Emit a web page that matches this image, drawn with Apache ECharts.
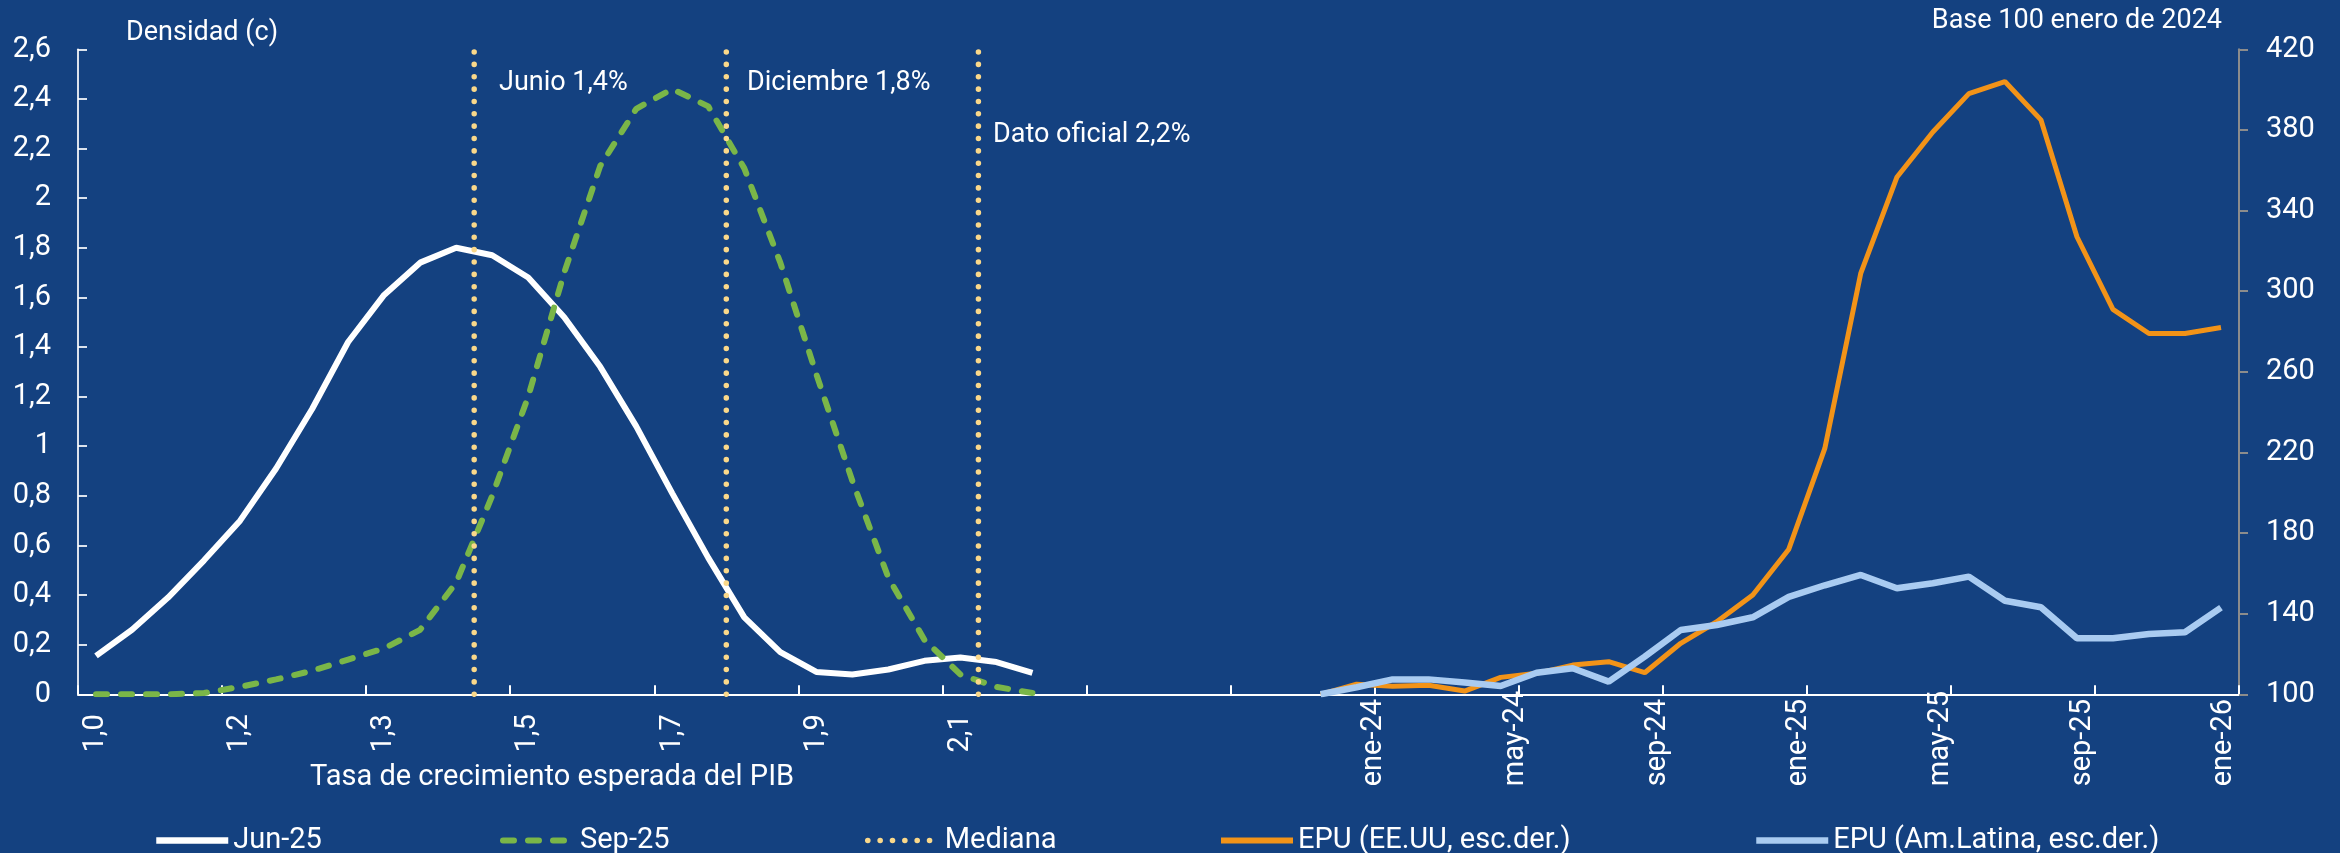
<!DOCTYPE html>
<html>
<head>
<meta charset="utf-8">
<script src="https://cdn.jsdelivr.net/npm/echarts@6/dist/echarts.min.js"></script>
<style>
html,body{margin:0;padding:0;background:#144180;}
#c{width:2340px;height:853px;}
</style>
</head>
<body>
<div id="c"></div>
<script>
// ---------- DATA ----------
// Left panel: density of expected GDP growth (27 grid points)
const gdpTickLabels = ['1,0', '1,2', '1,3', '1,5', '1,7', '1,9', '2,1']; // every 4th grid point
const densityJun25 = [0.155, 0.26, 0.39, 0.54, 0.70, 0.91, 1.15, 1.42, 1.61, 1.74, 1.80, 1.77, 1.68, 1.52,
                      1.32, 1.08, 0.81, 0.55, 0.31, 0.17, 0.09, 0.08, 0.10, 0.135, 0.148, 0.13, 0.086];
const densitySep25 = [0, 0, 0, 0.005, 0.03, 0.06, 0.095, 0.14, 0.185, 0.26, 0.45, 0.80, 1.20, 1.70,
                      2.13, 2.36, 2.44, 2.37, 2.12, 1.74, 1.29, 0.86, 0.47, 0.22, 0.08, 0.03, 0.005];
// Median lines (category-boundary position on the density grid) and their labels
const medianBoundaries = [11, 18, 25];
const medianLabels = ['Junio 1,4%', 'Diciembre 1,8%', 'Dato oficial 2,2%'];

// Right panel: EPU indices, base 100
const months = ['dic-23', 'ene-24', 'feb-24', 'mar-24', 'abr-24', 'may-24', 'jun-24', 'jul-24', 'ago-24',
                'sep-24', 'oct-24', 'nov-24', 'dic-24', 'ene-25', 'feb-25', 'mar-25', 'abr-25', 'may-25',
                'jun-25', 'jul-25', 'ago-25', 'sep-25', 'oct-25', 'nov-25', 'dic-25', 'ene-26'];
const monthTickLabels = ['ene-24', 'may-24', 'sep-24', 'ene-25', 'may-25', 'sep-25', 'ene-26'];
const epuUS = [100, 105, 104, 104.5, 101.6, 108.4, 110.4, 114.5, 116.2, 110.7, 125.3, 136, 149.3, 172,
               222, 309, 356.5, 379, 398, 404, 385, 327, 291, 279, 279, 282];
const epuLatam = [100, 103.5, 107.4, 107.4, 105.8, 104.1, 110.7, 112.9, 106.3, 118.7, 131.9, 134.4, 138.2,
                  148.3, 154.1, 159.2, 152.6, 155.1, 158.4, 146.4, 143.2, 127.8, 127.8, 129.9, 130.8, 143];
const leftTicks = [0, 0.2, 0.4, 0.6, 0.8, 1, 1.2, 1.4, 1.6, 1.8, 2, 2.2, 2.4, 2.6];
const rightTicks = [100, 140, 180, 220, 260, 300, 340, 380, 420];

// ---------- BUILD ----------
const GAP = 7;
const leftSlots = densityJun25.map((_, i) => 'g' + i);
const gapSlots = Array.from({length: GAP}, (_, i) => 'gap' + i);
const categories = leftSlots.concat(gapSlots, months);
const N = categories.length;
const rightStart = leftSlots.length + GAP;
function pad(arr, start) {
  const out = new Array(N).fill(null);
  arr.forEach((v, i) => { out[start + i] = v; });
  return out;
}
const leftLabelAt = {};
gdpTickLabels.forEach((t, j) => { leftLabelAt[j * 4] = t; });
const baseMonth = months.indexOf('ene-24');
const monthTickValues = monthTickLabels.map(m => months.indexOf(m) - baseMonth);

const FONT = 'Roboto';
const WHITE = '#ffffff';
const C_GREEN = '#7AB648', C_DOT = '#FAD88A', C_ORANGE = '#F29318', C_LBLUE = '#A9CBF1';
const fmtComma = v => String(+(+v).toFixed(1)).replace('.', ',');

const medianSeries = medianBoundaries.map(b => ({
  name: 'Mediana', type: 'line', xAxisIndex: 1, yAxisIndex: 0,
  data: [[b, leftTicks[0]], [b, leftTicks[leftTicks.length - 1]]],
  symbol: 'none', silent: true, z: 4,
  lineStyle: {color: C_DOT, width: 5.5, type: [0.1, 12.25], cap: 'round'},
  itemStyle: {color: C_DOT}
}));

const legendItems = [
  ['Jun-25', 148, 6.5], ['Sep-25', 495, 6], ['Mediana', 860, 5.5],
  ['EPU (EE.UU, esc.der.)', 1213, 6], ['EPU (Am.Latina, esc.der.)', 1748, 6.5]
];

const option = {
  backgroundColor: '#144180',
  animation: false,
  textStyle: {fontFamily: FONT},
  grid: {left: 78, right: 101, top: 49.3, bottom: 158.7, containLabel: false, outerBoundsMode: 'none'},
  legend: legendItems.map(([name, left, w]) => ({
    data: [name], left: left, top: 821, itemWidth: 72, itemHeight: 30, itemGap: 0, selectedMode: false,
    textStyle: {color: WHITE, fontSize: 29, fontFamily: FONT},
    lineStyle: {width: w},
    itemStyle: {opacity: 0, borderWidth: 0}
  })),
  xAxis: [
    {
      type: 'category', data: categories, boundaryGap: true, position: 'bottom',
      axisLine: {show: true, onZero: false, lineStyle: {color: WHITE, width: 2}},
      axisTick: {show: true, inside: true, length: 9, interval: i => i % 4 === 0,
                 lineStyle: {color: WHITE, width: 2}},
      axisLabel: {interval: 0, rotate: 90, margin: 20, color: WHITE, fontSize: 29, fontFamily: FONT,
                  formatter: (v, i) => leftLabelAt[i] || ''},
      splitLine: {show: false}
    },
    {type: 'value', min: 0, max: N, show: false, position: 'bottom'},
    {
      type: 'value', min: -36.59, max: 24.42, position: 'bottom',
      axisLine: {show: false}, axisTick: {show: false}, splitLine: {show: false},
      axisLabel: {customValues: monthTickValues, rotate: 90, align: 'left', margin: 92,
                  color: WHITE, fontSize: 29, fontFamily: FONT,
                  formatter: v => months[Math.round(v) + baseMonth]}
    }
  ],
  yAxis: [
    {
      type: 'value', position: 'left', min: 0, max: 2.6, interval: 0.2,
      axisLine: {show: true, onZero: false, lineStyle: {color: WHITE, width: 1.7}},
      axisTick: {show: true, inside: true, length: 9, lineStyle: {color: WHITE, width: 1.7}},
      axisLabel: {color: WHITE, fontSize: 29, fontFamily: FONT, margin: 27, formatter: fmtComma},
      splitLine: {show: false}
    },
    {
      type: 'value', position: 'right', min: 100, max: 420,
      axisLine: {show: true, onZero: false, lineStyle: {color: '#8c8c8c', width: 2}},
      axisTick: {show: true, inside: false, length: 9, customValues: rightTicks,
                 lineStyle: {color: '#8c8c8c', width: 2}},
      axisLabel: {customValues: rightTicks, color: WHITE, fontSize: 29, fontFamily: FONT, margin: 27},
      splitLine: {show: false}
    }
  ],
  series: [
    {name: 'Jun-25', type: 'line', xAxisIndex: 0, yAxisIndex: 0, data: pad(densityJun25, 0),
     symbol: 'none', z: 2, lineStyle: {color: WHITE, width: 6}, itemStyle: {color: WHITE}},
    {name: 'Sep-25', type: 'line', xAxisIndex: 0, yAxisIndex: 0, data: pad(densitySep25, 0),
     symbol: 'none', z: 3, lineStyle: {color: C_GREEN, width: 6, type: [11, 14], cap: 'round'},
     itemStyle: {color: C_GREEN}}
  ].concat(medianSeries, [
    {name: 'EPU (EE.UU, esc.der.)', type: 'line', xAxisIndex: 0, yAxisIndex: 1, data: pad(epuUS, rightStart),
     symbol: 'none', z: 5, lineStyle: {color: C_ORANGE, width: 5}, itemStyle: {color: C_ORANGE}},
    {name: 'EPU (Am.Latina, esc.der.)', type: 'line', xAxisIndex: 0, yAxisIndex: 1, data: pad(epuLatam, rightStart),
     symbol: 'none', z: 6, lineStyle: {color: C_LBLUE, width: 6.5}, itemStyle: {color: C_LBLUE}}
  ]),
  graphic: [
    {type: 'text', x: 126, y: 33, style: {text: 'Densidad (c)', fill: WHITE, font: '27px Roboto', verticalAlign: 'middle'}},
    {type: 'text', x: 499, y: 83, style: {text: medianLabels[0], fill: WHITE, font: '27px Roboto', verticalAlign: 'middle'}},
    {type: 'text', x: 747, y: 83, style: {text: medianLabels[1], fill: WHITE, font: '27px Roboto', verticalAlign: 'middle'}},
    {type: 'text', x: 993, y: 135, style: {text: medianLabels[2], fill: WHITE, font: '27px Roboto', verticalAlign: 'middle'}},
    {type: 'text', x: 2222, y: 21, style: {text: 'Base 100 enero de 2024', fill: WHITE, font: '27px Roboto', align: 'right', verticalAlign: 'middle'}},
    {type: 'text', x: 310, y: 778, style: {text: 'Tasa de crecimiento esperada del PIB', fill: WHITE, font: '29px Roboto', verticalAlign: 'middle'}}
  ]
};

const chart = echarts.init(document.getElementById('c'), null, {renderer: 'canvas'});
chart.setOption(option);
</script>
</body>
</html>
